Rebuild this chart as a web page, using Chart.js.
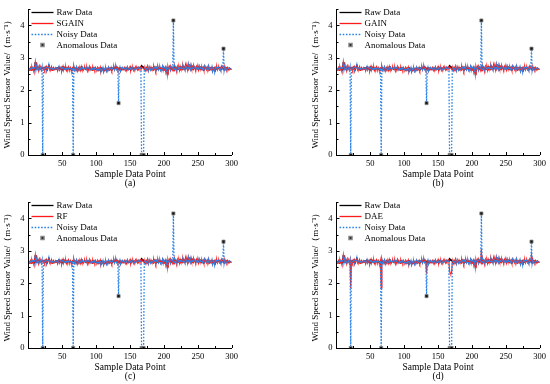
<!DOCTYPE html>
<html><head><meta charset="utf-8">
<script src="https://cdn.jsdelivr.net/npm/chart.js@4/dist/chart.umd.min.js"></script>
<style>
html,body{margin:0;padding:0;background:#fff;width:550px;height:384px;overflow:hidden}
canvas{position:absolute}
</style></head><body>
<canvas id="c0" width="242" height="192" style="left:0;top:0"></canvas>
<canvas id="c1" width="242" height="192" style="left:308px;top:0"></canvas>
<canvas id="c2" width="242" height="192" style="left:0;top:193px"></canvas>
<canvas id="c3" width="242" height="192" style="left:308px;top:193px"></canvas>
<script>
// ---- data ----
const rawData = [
2.62,2.66,2.70,2.61,2.72,2.64,2.68,2.59,2.71,2.86,2.63,2.74,2.65,2.70,2.60,2.73,2.66,2.69,2.62,2.71,
2.67,2.64,2.70,2.62,2.69,2.73,2.60,2.66,2.71,2.79,2.63,2.68,2.65,2.72,2.61,2.67,2.70,2.63,2.66,2.69,
2.64,2.71,2.60,2.68,2.73,2.62,2.66,2.70,2.59,2.67,2.74,2.63,2.69,2.65,2.71,2.61,2.68,2.64,2.72,2.66,
2.63,2.70,2.67,2.60,2.69,2.66,2.72,2.62,2.68,2.65,2.71,2.59,2.67,2.70,2.63,2.68,2.61,2.73,2.65,2.69,
2.62,2.67,2.71,2.64,2.66,2.70,2.60,2.68,2.65,2.72,2.63,2.69,2.66,2.61,2.71,2.64,2.68,2.62,2.70,2.66,
2.63,2.69,2.60,2.67,2.64,2.71,2.58,2.66,2.62,2.69,2.57,2.65,2.61,2.68,2.59,2.66,2.63,2.70,2.62,2.67,
2.64,2.70,2.61,2.68,2.66,2.72,2.63,2.69,2.74,2.65,2.70,2.62,2.67,2.64,2.71,2.60,2.68,2.65,2.69,2.63,
2.66,2.70,2.62,2.68,2.64,2.71,2.63,2.67,2.65,2.72,2.61,2.69,2.66,2.70,2.62,2.68,2.64,2.71,2.66,2.69,
2.63,2.70,2.65,2.68,2.72,2.66,2.78,2.74,2.69,2.71,2.64,2.68,2.61,2.70,2.66,2.73,2.60,2.67,2.69,2.63,
2.71,2.65,2.68,2.62,2.74,2.66,2.70,2.60,2.69,2.64,2.72,2.63,2.67,2.71,2.62,2.68,2.65,2.73,2.61,2.69,
2.64,2.70,2.58,2.66,2.48,2.72,2.63,2.69,2.75,2.62,2.67,2.71,2.65,2.70,2.60,2.74,2.66,2.69,2.62,2.72,
2.65,2.71,2.61,2.73,2.66,2.70,2.63,2.76,2.67,2.71,2.64,2.78,2.66,2.72,2.62,2.79,2.68,2.74,2.65,2.77,
2.67,2.72,2.63,2.75,2.68,2.70,2.64,2.73,2.66,2.71,2.62,2.74,2.67,2.69,2.63,2.72,2.65,2.70,2.61,2.73,
2.66,2.69,2.63,2.71,2.65,2.74,2.62,2.68,2.70,2.64,2.72,2.59,2.67,2.70,2.56,2.69,2.65,2.72,2.63,2.68,
2.71,2.64,2.69,2.62,2.73,2.66,2.70,2.65,2.61,2.72,2.66,2.69,2.63,2.70,2.67,2.64,2.68,2.66,2.65,2.64
];
const anomalyX = [21, 66, 133, 167, 168, 169, 170, 214, 288];
const anomalyY = [0, 0, 1.6, 0, 0, 0, 0, 4.15, 3.28];
const sgainFill = [2.68, 2.66, 2.66, 2.70, 2.69, 2.68, 2.67, 2.70, 2.66];
const gainFill  = [2.67, 2.68, 2.65, 2.69, 2.70, 2.67, 2.66, 2.72, 2.67];
const rfFill    = [2.68, 2.67, 2.66, 2.70, 2.68, 2.69, 2.66, 2.71, 2.68];
const daeFill   = [1.85, 1.85, 2.30, 2.38, 2.30, 2.28, 2.33, 3.05, 2.87];
const methodNames = ['SGAIN', 'GAIN', 'RF', 'DAE'];
const methodFills = [sgainFill, gainFill, rfFill, daeFill];
const panelLabels = ['(a)', '(b)', '(c)', '(d)'];
const xTicks = [50, 100, 150, 200, 250, 300];
const yTicks = [0, 1, 2, 3, 4];
const legendLabels = ['Raw Data', null, 'Noisy Data', 'Anomalous Data'];

// ---- build ----
const FONT = "'Liberation Serif','Times New Roman',serif";
const BLUE = '#2b83e6';
const RED = '#ff1a1a';
const MARK = {pointStyle: 'rect', radius: 2.2, borderWidth: 0.8, rotation: 0};
function series(fillVals) {
  return rawData.map((v, i) => {
    const k = anomalyX.indexOf(i + 1);
    return {x: i + 1, y: k >= 0 ? fillVals[k] : v};
  });
}
const rawPts = rawData.map((v, i) => ({x: i + 1, y: v}));
const noisyPts = series(anomalyY);
const anomalyPts = anomalyX.map((x, i) => ({x, y: anomalyY[i]}));

const inTicks = {
  id: 'inTicks',
  afterDraw(chart) {
    const {ctx, scales: {x, y}, chartArea: a} = chart;
    ctx.save(); ctx.strokeStyle = '#000'; ctx.lineWidth = 1; ctx.beginPath();
    for (let v = 25; v <= 300; v += 25) {
      const px = Math.round(x.getPixelForValue(v)) + 0.5;
      const len = xTicks.includes(v) ? 3 : 2;
      ctx.moveTo(px, a.bottom); ctx.lineTo(px, a.bottom - len);
    }
    for (let v = 0.5; v <= 4.5; v += 0.5) {
      const py = Math.round(y.getPixelForValue(v)) + 0.5;
      const len = yTicks.includes(v) ? 3 : 2;
      ctx.moveTo(a.left, py); ctx.lineTo(a.left + len, py);
    }
    ctx.stroke(); ctx.restore();
  }
};
const innerLegend = {
  id: 'innerLegend',
  afterDraw(chart) {
    const {ctx, chartArea: a} = chart;
    const labels = chart.options.plugins.innerLegend.labels;
    const x0 = a.left + 3, x1 = a.left + 25, tx = a.left + 28;
    ctx.save();
    ctx.font = '9px ' + FONT; ctx.textBaseline = 'middle';
    labels.forEach((t, i) => {
      const yy = 12 + i * 11;
      if (i < 3) {
        ctx.beginPath();
        ctx.strokeStyle = i === 0 ? '#000' : i === 1 ? RED : BLUE;
        ctx.lineWidth = i === 2 ? 1.4 : 1.3;
        ctx.setLineDash(i === 2 ? [1.6, 1.6] : []);
        ctx.moveTo(x0, yy + 0.5); ctx.lineTo(x1, yy + 0.5); ctx.stroke();
        ctx.setLineDash([]);
      } else {
        ctx.fillStyle = '#111'; ctx.strokeStyle = '#888';
        Chart.helpers.drawPoint(ctx, MARK, (x0 + x1) / 2, yy);
      }
      ctx.fillStyle = '#000';
      ctx.fillText(t, tx, yy + 0.5);
    });
    ctx.restore();
  }
};

methodNames.forEach((name, p) => {
  const labels = legendLabels.slice(); labels[1] = name;
  new Chart(document.getElementById('c' + p), {
    type: 'line',
    data: {
      datasets: [
        {label: 'Anomalous Data', data: anomalyPts, showLine: false, pointStyle: 'rect', pointRadius: 2.2,
         pointBorderColor: '#888', pointBackgroundColor: '#111', pointBorderWidth: 0.8,
         borderColor: '#888', backgroundColor: '#111', order: 0},
        {label: 'Noisy Data', data: noisyPts, borderColor: BLUE, borderWidth: 1.3, borderDash: [1.6, 1.6],
         pointRadius: 0, tension: 0, order: 1},
        {label: name, data: series(methodFills[p]), borderColor: RED, borderWidth: 1.2, pointRadius: 0, order: 2},
        {label: 'Raw Data', data: rawPts, borderColor: '#000', borderWidth: 1, pointRadius: 0, order: 3}
      ]
    },
    options: {
      responsive: false, animation: false, devicePixelRatio: 1,
      layout: {padding: {left: 0, right: 9, top: 6, bottom: 0}},
      plugins: {legend: {display: false}, tooltip: {enabled: false}, innerLegend: {labels}},
      scales: {
        x: {
          type: 'linear', min: 0, max: 300,
          afterBuildTicks: s => { s.ticks = xTicks.map(v => ({value: v})); },
          afterFit: s => { s.height = 37; },
          grid: {display: false, drawTicks: false},
          border: {display: true, color: '#000', width: 1},
          ticks: {color: '#000', font: {family: FONT, size: 8.5}, padding: 4, maxRotation: 0},
          title: {display: true, text: ['Sample Data Point', panelLabels[p]], color: '#000',
                  font: {family: FONT, size: 9.5, lineHeight: 0.95}, padding: {top: 0, bottom: 4}}
        },
        y: {
          min: 0, max: 4.5,
          afterBuildTicks: s => { s.ticks = yTicks.map(v => ({value: v})); },
          afterFit: s => { s.width = 28.5; },
          grid: {display: false, drawTicks: false},
          border: {display: true, color: '#000', width: 1},
          ticks: {color: '#000', font: {family: FONT, size: 8.5}, padding: 4},
          title: {display: true, text: 'Wind Speed Sensor Value/（m·s⁻¹）', color: '#000',
                  font: {family: FONT, size: 9, lineHeight: 1}, padding: {top: 3.5, bottom: 0}}
        }
      }
    },
    plugins: [inTicks, innerLegend]
  });
});
</script>
</body></html>
